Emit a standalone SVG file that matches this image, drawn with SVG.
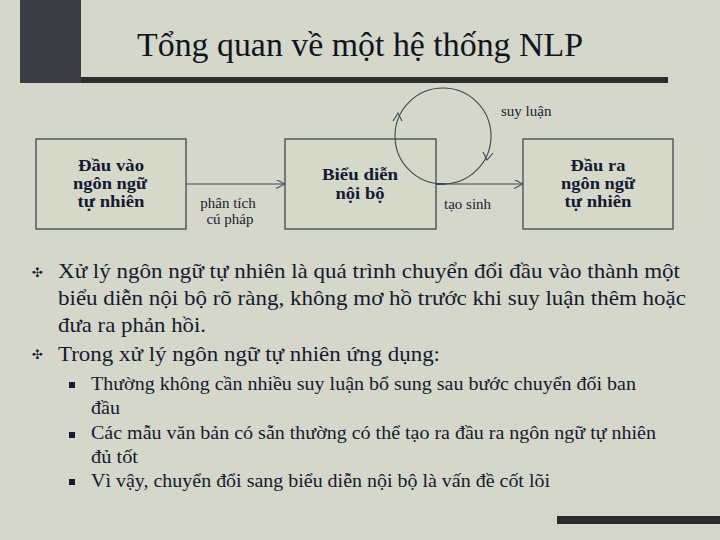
<svg xmlns="http://www.w3.org/2000/svg" width="720" height="540" viewBox="0 0 720 540">
<defs>
<style>
.bg{fill:#d4d7c9}
.box{fill:#d6d9ca;stroke:#3a4a4e;stroke-width:1.3}
.bt{font-family:"Liberation Serif","Times New Roman",serif;font-weight:bold;font-size:16.5px;fill:#141a33;text-anchor:middle}
.lbl{font-family:"Liberation Serif","Times New Roman",serif;font-size:15px;fill:#1c2135}
.ttl{font-family:"Liberation Serif","Times New Roman",serif;font-size:33px;fill:#111422}
.b1{font-family:"Liberation Serif","Times New Roman",serif;font-size:22px;fill:#161a30}
.b2{font-family:"Liberation Serif","Times New Roman",serif;font-size:19px;fill:#161a30}
.bul{font-family:"DejaVu Sans",sans-serif;font-size:13px;fill:#161a30}
.con{fill:none;stroke:#3a4a4e;stroke-width:1.1}
</style>
<marker id="ah" viewBox="0 0 10 10" refX="10" refY="5" markerWidth="9" markerHeight="9" markerUnits="userSpaceOnUse" orient="auto">
<path d="M0,0 L10,5 L0,10" fill="none" stroke="#3a4a4e" stroke-width="1.2"/>
</marker>
</defs>
<rect class="bg" x="0" y="0" width="720" height="540"/>
<rect x="20" y="0" width="61" height="83" fill="#3b3d45"/>
<rect x="81" y="77" width="587" height="6" fill="#2b2c2e"/>
<rect x="557" y="516" width="163" height="8" fill="#2b2c2e"/>
<text class="ttl" x="137" y="56" textLength="446" lengthAdjust="spacingAndGlyphs">Tổng quan về một hệ thống NLP</text>

<g id="node-input">
<rect class="box" x="36" y="139" width="150" height="90"/>
<text class="bt" x="111" y="171" textLength="66" lengthAdjust="spacingAndGlyphs">Đầu vào</text>
<text class="bt" x="110" y="189" textLength="74" lengthAdjust="spacingAndGlyphs">ngôn ngữ</text>
<text class="bt" x="111" y="207" textLength="67" lengthAdjust="spacingAndGlyphs">tự nhiên</text>
</g>
<g id="node-internal">
<rect class="box" x="285" y="139" width="151" height="90"/>
<text class="bt" x="360" y="180" textLength="76" lengthAdjust="spacingAndGlyphs">Biểu diễn</text>
<text class="bt" x="360" y="199" textLength="49" lengthAdjust="spacingAndGlyphs">nội bộ</text>
</g>
<g id="node-output">
<rect class="box" x="523" y="139" width="150" height="90"/>
<text class="bt" x="598" y="171" textLength="55" lengthAdjust="spacingAndGlyphs">Đầu ra</text>
<text class="bt" x="598" y="189" textLength="74" lengthAdjust="spacingAndGlyphs">ngôn ngữ</text>
<text class="bt" x="598" y="207" textLength="67" lengthAdjust="spacingAndGlyphs">tự nhiên</text>
</g>

<g id="connectors">
<line class="con" x1="186" y1="184" x2="285" y2="184" marker-end="url(#ah)"/>
<line class="con" x1="436" y1="184" x2="523" y2="184" marker-end="url(#ah)"/>
<circle class="con" cx="443" cy="136" r="48"/>
<path d="M393,121 L398,113 L402,121" fill="none" stroke="#3a4a4e" stroke-width="1.1"/>
<path d="M483,152 L487,160 L493,153" fill="none" stroke="#3a4a4e" stroke-width="1.1"/>
<line x1="436" y1="184" x2="445" y2="184" stroke="#3a4a4e" stroke-width="2"/>
<text class="lbl" x="228" y="208" text-anchor="middle">phân tích</text>
<text class="lbl" x="230" y="224" text-anchor="middle">cú pháp</text>
<text class="lbl" x="444" y="209">tạo sinh</text>
<text class="lbl" x="501" y="116">suy luận</text>
</g>

<g id="bullets">
<text class="bul" x="32" y="277">✣</text>
<text class="b1" x="58" y="278" textLength="622" lengthAdjust="spacingAndGlyphs">Xử lý ngôn ngữ tự nhiên là quá trình chuyển đổi đầu vào thành một</text>
<text class="b1" x="58" y="305" textLength="628" lengthAdjust="spacingAndGlyphs">biểu diễn nội bộ rõ ràng, không mơ hồ trước khi suy luận thêm hoặc</text>
<text class="b1" x="58" y="332" textLength="148" lengthAdjust="spacingAndGlyphs">đưa ra phản hồi.</text>
<text class="bul" x="32" y="359">✣</text>
<text class="b1" x="58" y="361" textLength="382" lengthAdjust="spacingAndGlyphs">Trong xử lý ngôn ngữ tự nhiên ứng dụng:</text>
<rect x="69" y="382" width="6" height="6" fill="#161a30"/>
<text class="b2" x="91" y="390" textLength="545" lengthAdjust="spacingAndGlyphs">Thường không cần nhiều suy luận bổ sung sau bước chuyển đổi ban</text>
<text class="b2" x="91" y="414" textLength="29" lengthAdjust="spacingAndGlyphs">đầu</text>
<rect x="69" y="432" width="6" height="6" fill="#161a30"/>
<text class="b2" x="91" y="439" textLength="565" lengthAdjust="spacingAndGlyphs">Các mẫu văn bản có sẵn thường có thể tạo ra đầu ra ngôn ngữ tự nhiên</text>
<text class="b2" x="91" y="463" textLength="47" lengthAdjust="spacingAndGlyphs">đủ tốt</text>
<rect x="69" y="479" width="6" height="6" fill="#161a30"/>
<text class="b2" x="91" y="487" textLength="459" lengthAdjust="spacingAndGlyphs">Vì vậy, chuyển đổi sang biểu diễn nội bộ là vấn đề cốt lõi</text>
</g>
</svg>
